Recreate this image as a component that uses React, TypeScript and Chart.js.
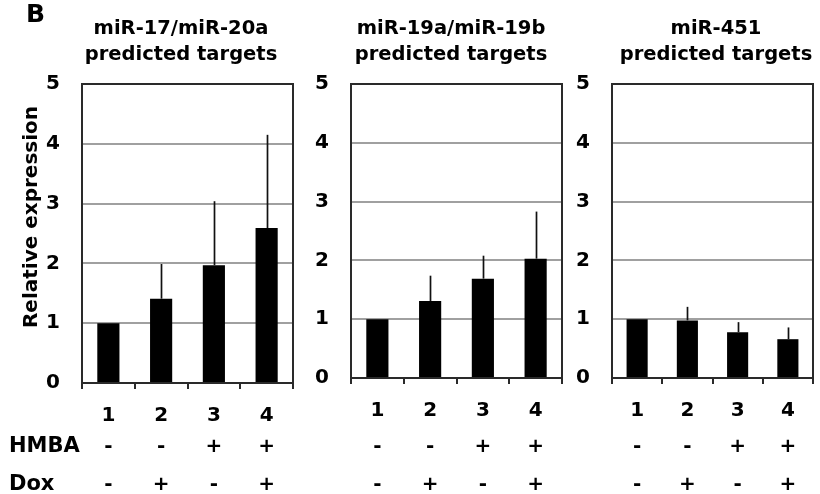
import { useEffect, useRef } from 'react';
import { Chart, registerables } from 'chart.js';

Chart.register(...registerables);

// ---- data ----
const categories = ['1', '2', '3', '4'];
const hmbaRow = ['-', '-', '+', '+'];
const doxRow = ['-', '+', '-', '+'];
const rowLabels = ['HMBA', 'Dox'];
const yTickValues = [0, 1, 2, 3, 4, 5];

const mir17Title = ['miR-17/miR-20a', 'predicted targets'];
const mir17Values = [1.0, 1.41, 1.97, 2.59];
const mir17Errors = [0, 0.58, 1.07, 1.56];

const mir19Title = ['miR-19a/miR-19b', 'predicted targets'];
const mir19Values = [1.0, 1.31, 1.69, 2.03];
const mir19Errors = [0, 0.43, 0.39, 0.8];

const mir451Title = ['miR-451', 'predicted targets'];
const mir451Values = [1.0, 0.98, 0.78, 0.66];
const mir451Errors = [0, 0.23, 0.17, 0.2];

const yAxisTitle = 'Relative expression';
const panelLetter = 'B';

// ---- layout / style ----
const FONT = "'DejaVu Sans', 'Liberation Sans', sans-serif";
const W = 820;
const H = 494;

type PanelCfg = {
  title: string[];
  values: number[];
  errors: number[];
  canvasLeft: number;
  canvasWidth: number;
  plotLeft: number;
  plotRight: number;
  plotBottom: number;
  titleX: number;
  first: boolean;
};

const panels: PanelCfg[] = [
  { title: mir17Title, values: mir17Values, errors: mir17Errors, canvasLeft: 0, canvasWidth: 300, plotLeft: 82, plotRight: 293, plotBottom: 383, titleX: 181, first: true },
  { title: mir19Title, values: mir19Values, errors: mir19Errors, canvasLeft: 300, canvasWidth: 270, plotLeft: 351, plotRight: 562, plotBottom: 378, titleX: 451, first: false },
  { title: mir451Title, values: mir451Values, errors: mir451Errors, canvasLeft: 570, canvasWidth: 250, plotLeft: 612, plotRight: 813, plotBottom: 378, titleX: 716, first: false },
];

function Panel({ cfg }: { cfg: PanelCfg }) {
  const ref = useRef<HTMLCanvasElement | null>(null);

  useEffect(() => {
    const canvas = ref.current;
    if (!canvas) return;
    const off = cfg.canvasLeft;

    const decor = {
      id: 'decor',
      afterDatasetsDraw(chart: any) {
        const ctx = chart.ctx;
        const ys = chart.scales.y;
        const meta = chart.getDatasetMeta(0);
        ctx.save();
        ctx.strokeStyle = '#111';
        ctx.lineWidth = 1.7;
        cfg.values.forEach((v, i) => {
          const e = cfg.errors[i];
          if (!e) return;
          const x = Math.round(meta.data[i].x) + 0.5;
          ctx.beginPath();
          ctx.moveTo(x, ys.getPixelForValue(v));
          ctx.lineTo(x, ys.getPixelForValue(v + e));
          ctx.stroke();
        });
        ctx.restore();
      },
      afterDraw(chart: any) {
        const ctx = chart.ctx;
        const a = chart.chartArea;
        const xs = chart.scales.x;
        ctx.save();
        // plot box
        ctx.strokeStyle = '#2a2a2a';
        ctx.lineWidth = 2;
        ctx.strokeRect(a.left, a.top, a.right - a.left, a.bottom - a.top);

        ctx.fillStyle = '#000';
        // titles
        ctx.font = `bold 19.5px ${FONT}`;
        ctx.textAlign = 'center';
        ctx.textBaseline = 'alphabetic';
        ctx.fillText(cfg.title[0], cfg.titleX - off, 34);
        ctx.fillText(cfg.title[1], cfg.titleX - off, 60);

        // treatment rows
        ctx.font = `bold 20px ${FONT}`;
        categories.forEach((_, i) => {
          const x = xs.getPixelForValue(i);
          ctx.fillText(hmbaRow[i], x, 452);
          ctx.fillText(doxRow[i], x, 490);
        });

        if (cfg.first) {
          ctx.textAlign = 'left';
          ctx.font = `bold 21px ${FONT}`;
          ctx.fillText(rowLabels[0], 9, 452);
          ctx.fillText(rowLabels[1], 9, 490);
          ctx.font = `bold 25px ${FONT}`;
          ctx.fillText(panelLetter, 26, 22);
          // y axis title
          ctx.font = `bold 20px ${FONT}`;
          ctx.translate(37, 217);
          ctx.rotate(-Math.PI / 2);
          ctx.textAlign = 'center';
          ctx.fillText(yAxisTitle, 0, 0);
        }
        ctx.restore();
      },
    };

    const tickFont = { family: FONT, size: 20, weight: 'bold' as const };

    const chart = new Chart(canvas, {
      type: 'bar',
      data: {
        labels: categories,
        datasets: [
          {
            data: cfg.values,
            backgroundColor: '#000',
            borderWidth: 0,
            barPercentage: 0.42,
            categoryPercentage: 1,
          },
        ],
      },
      options: {
        responsive: false,
        maintainAspectRatio: false,
        animation: false,
        layout: {
          padding: {
            left: 0,
            right: off + cfg.canvasWidth - cfg.plotRight,
            top: 84,
            bottom: 0,
          },
        },
        plugins: {
          legend: { display: false },
          tooltip: { enabled: false },
          title: { display: false },
        },
        scales: {
          x: {
            offset: true,
            grid: {
              offset: true,
              drawOnChartArea: false,
              drawTicks: true,
              tickLength: 6,
              color: '#2a2a2a',
              lineWidth: 2,
            },
            border: { display: false },
            ticks: { font: tickFont, color: '#000', padding: 15 },
            afterFit: (s: any) => {
              s.height = H - cfg.plotBottom;
            },
          },
          y: {
            min: yTickValues[0],
            max: yTickValues[yTickValues.length - 1],
            ticks: { stepSize: 1, font: tickFont, color: '#000', padding: 22 },
            grid: { color: '#a0a0a0', lineWidth: 2, drawTicks: false },
            border: { display: false },
            afterFit: (s: any) => {
              s.width = cfg.plotLeft - off;
            },
          },
        },
      },
      plugins: [decor],
    });

    return () => chart.destroy();
  }, [cfg]);

  return (
    <canvas
      ref={ref}
      width={cfg.canvasWidth}
      height={H}
      style={{ position: 'absolute', left: cfg.canvasLeft, top: 0, width: cfg.canvasWidth, height: H, display: 'block' }}
    />
  );
}

export default function App() {
  return (
    <div style={{ position: 'fixed', left: 0, top: 0, width: W, height: H, background: '#fff', overflow: 'hidden' }}>
      {panels.map((p, i) => (
        <Panel key={i} cfg={p} />
      ))}
    </div>
  );
}
